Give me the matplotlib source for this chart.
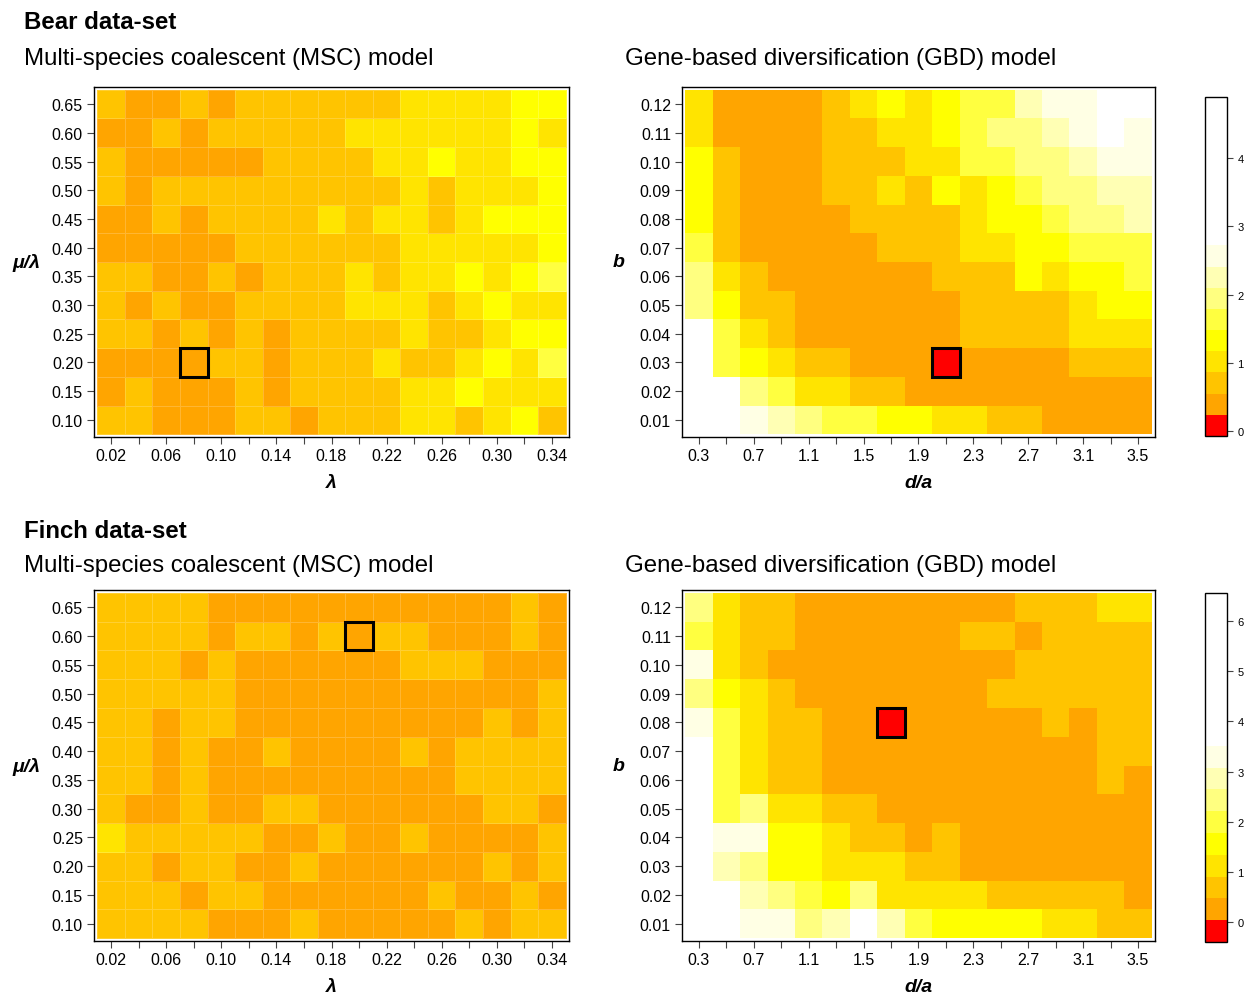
import numpy as np
import matplotlib
matplotlib.use('Agg')
import matplotlib.pyplot as plt
from matplotlib.colors import ListedColormap, BoundaryNorm
from matplotlib.patches import Rectangle

plt.rcParams['font.family'] = ['Liberation Sans', 'DejaVu Sans']

# grid values
lam = [0.02, 0.04, 0.06, 0.08, 0.10, 0.12, 0.14, 0.16, 0.18, 0.20,
       0.22, 0.24, 0.26, 0.28, 0.30, 0.32, 0.34]
mu_lam = [0.65, 0.60, 0.55, 0.50, 0.45, 0.40, 0.35, 0.30, 0.25, 0.20, 0.15, 0.10]
d_a = [0.3, 0.5, 0.7, 0.9, 1.1, 1.3, 1.5, 1.7, 1.9, 2.1,
       2.3, 2.5, 2.7, 2.9, 3.1, 3.3, 3.5]
b_vals = [0.12, 0.11, 0.10, 0.09, 0.08, 0.07, 0.06, 0.05, 0.04, 0.03, 0.02, 0.01]

lam_labels = ['0.02', '0.06', '0.10', '0.14', '0.18', '0.22', '0.26', '0.30', '0.34']
da_labels = ['0.3', '0.7', '1.1', '1.5', '1.9', '2.3', '2.7', '3.1', '3.5']

# colour band read for each cell (0 = red ... 9 = white), rows top to bottom
bear_msc = [
    [2, 1, 1, 2, 1, 2, 2, 2, 2, 2, 2, 3, 3, 3, 3, 4, 4],
    [1, 1, 2, 1, 2, 2, 2, 2, 2, 3, 3, 3, 3, 3, 3, 4, 3],
    [2, 1, 1, 1, 1, 1, 2, 2, 2, 2, 3, 3, 4, 3, 3, 4, 4],
    [2, 1, 2, 2, 2, 2, 2, 2, 2, 2, 2, 3, 2, 3, 3, 3, 4],
    [1, 1, 2, 1, 2, 2, 2, 2, 3, 2, 3, 3, 2, 3, 4, 4, 4],
    [1, 1, 1, 1, 1, 2, 2, 2, 2, 2, 2, 3, 3, 3, 3, 3, 4],
    [2, 2, 1, 1, 2, 1, 2, 2, 2, 3, 2, 3, 3, 4, 3, 4, 5],
    [2, 1, 2, 1, 1, 2, 2, 2, 2, 3, 3, 3, 2, 3, 4, 3, 3],
    [2, 2, 1, 2, 1, 2, 1, 2, 2, 2, 2, 3, 2, 2, 3, 4, 4],
    [1, 1, 1, 1, 2, 2, 1, 2, 2, 2, 3, 2, 2, 3, 4, 3, 5],
    [1, 2, 1, 1, 1, 2, 1, 2, 2, 2, 2, 3, 3, 4, 3, 3, 3],
    [2, 2, 1, 1, 1, 2, 2, 1, 2, 2, 2, 3, 3, 2, 3, 4, 2],
]
bear_gbd = [
    [3, 1, 1, 1, 1, 2, 3, 4, 3, 4, 5, 5, 7, 8, 8, 9, 9],
    [3, 1, 1, 1, 1, 2, 2, 3, 3, 4, 5, 6, 6, 7, 8, 9, 8],
    [4, 2, 1, 1, 1, 2, 2, 2, 3, 3, 5, 5, 6, 6, 7, 8, 8],
    [4, 2, 1, 1, 1, 2, 2, 3, 2, 4, 3, 4, 5, 6, 6, 7, 7],
    [4, 2, 1, 1, 1, 1, 2, 2, 2, 2, 3, 4, 4, 5, 6, 6, 7],
    [5, 2, 1, 1, 1, 1, 1, 2, 2, 2, 3, 3, 4, 4, 5, 5, 5],
    [6, 3, 2, 1, 1, 1, 1, 1, 1, 2, 2, 2, 4, 3, 4, 4, 5],
    [6, 4, 2, 2, 1, 1, 1, 1, 1, 1, 2, 2, 2, 2, 3, 4, 4],
    [9, 5, 3, 2, 1, 1, 1, 1, 1, 1, 2, 2, 2, 2, 3, 3, 3],
    [9, 5, 4, 3, 2, 2, 1, 1, 1, 0, 1, 1, 1, 1, 2, 2, 2],
    [9, 9, 6, 5, 3, 3, 2, 2, 1, 1, 1, 1, 1, 1, 1, 1, 1],
    [9, 9, 8, 7, 6, 5, 5, 4, 4, 3, 3, 2, 2, 1, 1, 1, 1],
]
finch_msc = [
    [2, 2, 2, 2, 1, 1, 1, 1, 1, 1, 1, 1, 1, 1, 1, 2, 1],
    [2, 2, 2, 2, 1, 2, 2, 1, 2, 1, 2, 2, 1, 1, 1, 2, 1],
    [2, 2, 2, 1, 2, 1, 1, 1, 1, 1, 1, 2, 2, 2, 1, 1, 1],
    [2, 2, 2, 2, 2, 1, 1, 1, 1, 1, 1, 1, 1, 1, 1, 1, 2],
    [2, 2, 1, 2, 2, 1, 1, 1, 1, 1, 1, 1, 1, 1, 2, 1, 2],
    [2, 2, 1, 2, 1, 1, 2, 1, 1, 1, 1, 2, 1, 2, 2, 2, 2],
    [2, 2, 1, 2, 1, 1, 1, 1, 1, 1, 1, 1, 1, 2, 2, 2, 2],
    [2, 1, 1, 2, 1, 1, 2, 2, 1, 1, 1, 1, 1, 1, 2, 2, 1],
    [3, 2, 2, 2, 2, 2, 1, 1, 2, 1, 1, 2, 1, 1, 1, 1, 2],
    [2, 2, 1, 2, 2, 1, 1, 2, 1, 1, 1, 1, 1, 1, 2, 1, 2],
    [2, 2, 2, 1, 2, 2, 1, 1, 1, 1, 1, 1, 2, 1, 1, 2, 1],
    [2, 2, 2, 2, 1, 1, 1, 2, 1, 1, 1, 1, 1, 2, 1, 2, 2],
]
finch_gbd = [
    [6, 3, 2, 2, 1, 1, 1, 1, 1, 1, 1, 1, 2, 2, 2, 3, 3],
    [5, 3, 2, 2, 1, 1, 1, 1, 1, 1, 2, 2, 1, 2, 2, 2, 2],
    [8, 3, 2, 1, 1, 1, 1, 1, 1, 1, 1, 1, 2, 2, 2, 2, 2],
    [6, 4, 3, 2, 1, 1, 1, 1, 1, 1, 1, 2, 2, 2, 2, 2, 2],
    [8, 5, 3, 2, 2, 1, 1, 0, 1, 1, 1, 1, 1, 2, 1, 2, 2],
    [9, 5, 3, 2, 2, 1, 1, 1, 1, 1, 1, 1, 1, 1, 1, 2, 2],
    [9, 5, 3, 2, 2, 1, 1, 1, 1, 1, 1, 1, 1, 1, 1, 2, 1],
    [9, 5, 6, 3, 3, 2, 2, 1, 1, 1, 1, 1, 1, 1, 1, 1, 1],
    [9, 8, 8, 4, 4, 3, 2, 2, 1, 2, 1, 1, 1, 1, 1, 1, 1],
    [9, 7, 6, 4, 4, 3, 3, 3, 2, 2, 1, 1, 1, 1, 1, 1, 1],
    [9, 9, 7, 6, 5, 4, 6, 3, 3, 3, 3, 2, 2, 2, 2, 2, 1],
    [9, 9, 8, 8, 6, 7, 9, 7, 5, 4, 4, 4, 4, 3, 3, 2, 2],
]

# best cells (boxed)
bear_msc_best = (0.08, 0.20)
bear_gbd_best = (2.1, 0.03)
finch_msc_best = (0.20, 0.60)
finch_gbd_best = (1.7, 0.08)

# colour scale of each data-set (16 equal bands)
bear_range = (-0.07, 4.89)
finch_range = (-0.40, 6.56)

band_colors = ['#FF0000', '#FFA500', '#FFC400', '#FFE400', '#FFFF00',
               '#FFFF40', '#FFFF80', '#FFFFB4', '#FFFFE4'] + ['#FFFFFF'] * 7
cmap = ListedColormap(band_colors)

W, H = 1248, 995
fig = plt.figure(figsize=(W / 100, H / 100), dpi=100)


def px_axes(x0, y0, x1, y1):
    return fig.add_axes([x0 / W, 1 - y1 / H, (x1 - x0) / W, (y1 - y0) / H])


def edges(c):
    c = np.asarray(c, dtype=float)
    s = abs(c[1] - c[0])
    return np.concatenate([[c.min() - s / 2], np.sort(c) + s / 2])


def heatmap(ax, xs, ys, grid, rng, best, best_red, xlab, ylab, xlabels, grid_lines):
    lo, hi = rng
    w = (hi - lo) / 16
    vals = lo + (np.array(grid, dtype=float)[::-1] + 0.5) * w
    xe, ye = edges(xs), edges(ys)
    norm = BoundaryNorm(np.linspace(lo, hi, 17), cmap.N)
    if grid_lines:
        ax.pcolormesh(xe, ye, vals, cmap=cmap, norm=norm,
                      edgecolors=(1, 1, 1, 0.2), linewidth=0.6)
    else:
        ax.pcolormesh(xe, ye, vals, cmap=cmap, norm=norm)
    sx = xe[1] - xe[0]
    sy = ye[1] - ye[0]
    px = (xe[-1] - xe[0]) * 0.007
    py = (ye[-1] - ye[0]) * 0.008
    ax.set_xlim(xe[0] - px, xe[-1] + px)
    ax.set_ylim(ye[0] - py, ye[-1] + py)
    ax.add_patch(Rectangle((best[0] - sx / 2, best[1] - sy / 2), sx, sy,
                           facecolor='#FF0000' if best_red else 'none',
                           edgecolor='black', linewidth=2.2, zorder=5))
    ax.set_xticks(xs)
    ax.set_xticklabels([xlabels[i // 2] if i % 2 == 0 else '' for i in range(len(xs))])
    ax.set_yticks(ys)
    ax.set_yticklabels(['%.2f' % v for v in ys])
    ax.tick_params(direction='out', length=5, width=0.8, labelsize=11.5,
                   color='#444444', pad=3)
    for s in ax.spines.values():
        s.set_linewidth(1.0)
    ax.text(0.5, -0.13, xlab, transform=ax.transAxes, ha='center', va='center',
            fontsize=14, fontweight='bold', fontstyle='italic')
    ax.text(ylab[1], 0.5, ylab[0], transform=ax.transAxes, ha='center', va='center',
            fontsize=14, fontweight='bold', fontstyle='italic')


def colorbar(x0, y0, x1, y1, rng, ticks):
    cax = px_axes(x0, y0, x1, y1)
    lo, hi = rng
    bounds = np.linspace(lo, hi, 17)
    sm = plt.cm.ScalarMappable(norm=BoundaryNorm(bounds, cmap.N), cmap=cmap)
    cb = fig.colorbar(sm, cax=cax, boundaries=bounds, ticks=ticks)
    cb.minorticks_off()
    cb.ax.tick_params(labelsize=8, length=4, width=0.8, color='#444444')
    cb.outline.set_linewidth(1.0)
    cb.set_ticklabels([str(t) for t in ticks])


# Bear
ax = px_axes(94, 88, 569, 438)
heatmap(ax, lam, mu_lam, bear_msc, bear_range, bear_msc_best, False,
        'λ', ('μ/λ', -0.143), lam_labels, True)
ax = px_axes(682, 88, 1155, 438)
heatmap(ax, d_a, b_vals, bear_gbd, bear_range, bear_gbd_best, True,
        'd/a', ('b', -0.133), da_labels, False)
colorbar(1205, 98, 1227, 437, bear_range, [0, 1, 2, 3, 4])

# Finch
ax = px_axes(94, 591, 569, 942)
heatmap(ax, lam, mu_lam, finch_msc, finch_range, finch_msc_best, False,
        'λ', ('μ/λ', -0.143), lam_labels, True)
ax = px_axes(682, 591, 1155, 942)
heatmap(ax, d_a, b_vals, finch_gbd, finch_range, finch_gbd_best, True,
        'd/a', ('b', -0.133), da_labels, False)
colorbar(1205, 594, 1227, 943, finch_range, [0, 1, 2, 3, 4, 5, 6])

fs = 17.3
fig.text(24 / W, 1 - 23 / H, 'Bear data-set', fontsize=fs, fontweight='bold', va='center')
fig.text(24 / W, 1 - 59 / H, 'Multi-species coalescent (MSC) model', fontsize=fs, va='center')
fig.text(625 / W, 1 - 59 / H, 'Gene-based diversification (GBD) model', fontsize=fs, va='center')
fig.text(24 / W, 1 - 531 / H, 'Finch data-set', fontsize=fs, fontweight='bold', va='center')
fig.text(24 / W, 1 - 566 / H, 'Multi-species coalescent (MSC) model', fontsize=fs, va='center')
fig.text(625 / W, 1 - 566 / H, 'Gene-based diversification (GBD) model', fontsize=fs, va='center')

fig.savefig('out.png', dpi=100)
